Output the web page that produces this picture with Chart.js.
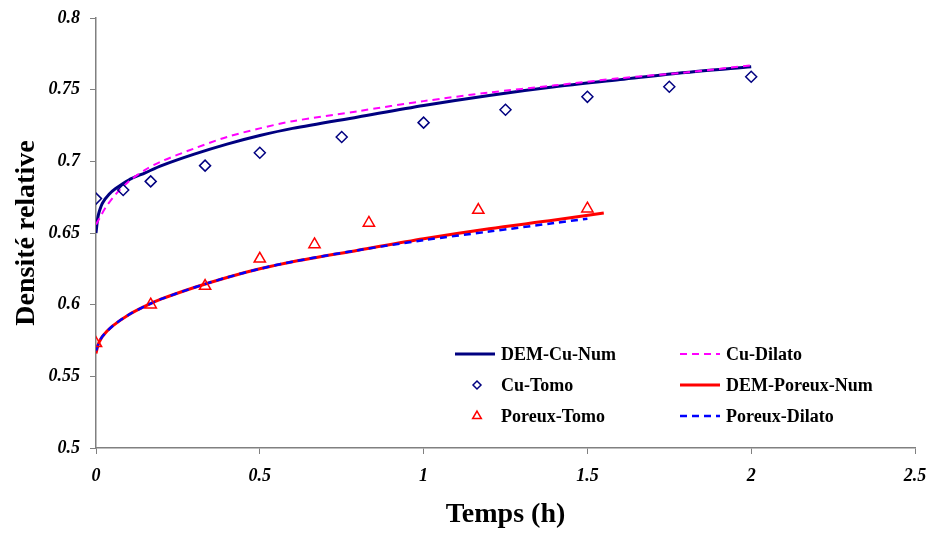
<!DOCTYPE html>
<html lang="fr">
  <head>
    <meta charset="UTF-8" />
    <title>Densité relative</title>
    <script src="https://cdn.jsdelivr.net/npm/chart.js"></script>
    <style>
      html, body { margin: 0; padding: 0; background: #fff; }
      #wrap { width: 926px; height: 533px; }
    </style>
  </head>
  <body>
    <div id="wrap"><canvas id="densChart" width="926" height="533"></canvas></div>
    <script>
      // values
      const cuNumT = [0, 0.005, 0.01, 0.02, 0.04, 0.06, 0.1, 0.15, 0.2, 0.3, 0.4, 0.5, 0.6, 0.8, 1.0, 1.2, 1.4, 1.6, 1.8, 2.0];
      const cuNumD = [0.650, 0.660, 0.665, 0.671, 0.677, 0.681, 0.687, 0.692, 0.697, 0.705, 0.712, 0.718, 0.723, 0.731, 0.739, 0.746, 0.752, 0.757, 0.762, 0.766];

      const cuDilT = [0, 0.01, 0.03, 0.06, 0.1, 0.15, 0.2, 0.3, 0.4, 0.5, 0.6, 0.8, 1.0, 1.2, 1.4, 1.6, 1.8, 2.0];
      const cuDilD = [0.656, 0.660, 0.668, 0.677, 0.686, 0.694, 0.700, 0.709, 0.717, 0.723, 0.728, 0.735, 0.742, 0.748, 0.753, 0.758, 0.762, 0.767];

      const cuTomoT = [0, 0.083, 0.167, 0.333, 0.5, 0.75, 1.0, 1.25, 1.5, 1.75, 2.0];
      const cuTomoD = [0.674, 0.680, 0.686, 0.697, 0.706, 0.717, 0.727, 0.736, 0.745, 0.752, 0.759];

      const porNumT = [0, 0.005, 0.01, 0.02, 0.05, 0.1, 0.15, 0.2, 0.3, 0.4, 0.5, 0.6, 0.8, 1.0, 1.2, 1.4, 1.55];
      const porNumD = [0.566, 0.571, 0.574, 0.578, 0.585, 0.593, 0.599, 0.604, 0.612, 0.619, 0.625, 0.630, 0.638, 0.646, 0.653, 0.659, 0.664];

      const porDilT = [0, 0.01, 0.02, 0.05, 0.1, 0.15, 0.2, 0.3, 0.4, 0.5, 0.6, 0.8, 1.0, 1.2, 1.4, 1.5];
      const porDilD = [0.568, 0.574, 0.578, 0.585, 0.593, 0.599, 0.604, 0.612, 0.619, 0.625, 0.630, 0.638, 0.645, 0.651, 0.657, 0.660];

      const porTomoT = [0, 0.167, 0.333, 0.5, 0.667, 0.833, 1.167, 1.5];
      const porTomoD = [0.573, 0.600, 0.613, 0.632, 0.642, 0.657, 0.666, 0.667];

      const xTickLabels = ["0", "0.5", "1", "1.5", "2", "2.5"];
      const yTickLabels = ["0.5", "0.55", "0.6", "0.65", "0.7", "0.75", "0.8"];

      function pts(t, d) {
        return t.map((v, i) => ({ x: v, y: d[i] }));
      }

      const serif = "'Liberation Serif', 'Times New Roman', serif";

      // legend drawn inside the plot, 2 columns x 3 rows
      const legendInside = {
        id: "legendInside",
        afterDraw(chart) {
          const ctx = chart.ctx;
          const ds = chart.data.datasets;
          const cells = [
            [0, 455, 354], [1, 680, 354],
            [2, 455, 385], [3, 680, 385],
            [4, 455, 416], [5, 680, 416],
          ];
          ctx.save();
          ctx.font = "bold 18px " + serif;
          ctx.textBaseline = "middle";
          cells.forEach(([i, x, y]) => {
            const d = ds[i];
            ctx.save();
            if (d.showLine === false) {
              ctx.strokeStyle = d.pointBorderColor;
              ctx.fillStyle = "rgba(0,0,0,0)";
              ctx.lineWidth = d.pointBorderWidth;
              Chart.helpers.drawPoint(ctx, {
                pointStyle: d.pointStyle,
                radius: d.pointRadius - 1.5,
                borderWidth: d.pointBorderWidth,
              }, x + 22, y);
            } else {
              ctx.strokeStyle = d.borderColor;
              ctx.lineWidth = d.borderWidth;
              ctx.setLineDash(d.borderDash || []);
              ctx.beginPath();
              ctx.moveTo(x, y);
              ctx.lineTo(x + 40, y);
              ctx.stroke();
            }
            ctx.restore();
            ctx.fillStyle = "#000";
            ctx.fillText(d.label, x + 46, y + 1);
          });
          ctx.restore();
        },
      };

      new Chart(document.getElementById("densChart"), {
        type: "scatter",
        data: {
          datasets: [
            {
              label: "DEM-Cu-Num",
              data: pts(cuNumT, cuNumD),
              showLine: true,
              borderColor: "#000080",
              borderWidth: 3,
              pointRadius: 0,
              tension: 0.3,
              order: 2,
            },
            {
              label: "Cu-Dilato",
              data: pts(cuDilT, cuDilD),
              showLine: true,
              borderColor: "#FF00FF",
              borderWidth: 2,
              borderDash: [7, 5],
              pointRadius: 0,
              tension: 0.3,
              order: 1,
            },
            {
              label: "Cu-Tomo",
              data: pts(cuTomoT, cuTomoD),
              showLine: false,
              pointStyle: "rectRot",
              pointRadius: 5.5,
              pointBorderWidth: 1.5,
              pointBorderColor: "#000080",
              pointBackgroundColor: "rgba(0,0,0,0)",
              borderColor: "#000080",
              order: 0,
            },
            {
              label: "DEM-Poreux-Num",
              data: pts(porNumT, porNumD),
              showLine: true,
              borderColor: "#FF0000",
              borderWidth: 3,
              pointRadius: 0,
              tension: 0.3,
              order: 4,
            },
            {
              label: "Poreux-Tomo",
              data: pts(porTomoT, porTomoD),
              showLine: false,
              pointStyle: "triangle",
              pointRadius: 6.5,
              pointBorderWidth: 1.5,
              pointBorderColor: "#FF0000",
              pointBackgroundColor: "rgba(0,0,0,0)",
              borderColor: "#FF0000",
              order: 0,
            },
            {
              label: "Poreux-Dilato",
              data: pts(porDilT, porDilD),
              showLine: true,
              borderColor: "#0000FF",
              borderWidth: 2.5,
              borderDash: [7, 5],
              pointRadius: 0,
              tension: 0.3,
              order: 3,
            },
          ],
        },
        options: {
          responsive: false,
          animation: false,
          layout: { padding: { left: 0, right: 11, top: 18, bottom: 0 } },
          plugins: {
            legend: { display: false },
            tooltip: { enabled: false },
          },
          scales: {
            x: {
              type: "linear",
              min: 0,
              max: 2.5,
              afterFit: (s) => {
                s.height = 85;
                s.paddingLeft = 0;
                s.paddingRight = 0;
              },
              afterBuildTicks: (s) => {
                s.ticks = xTickLabels.map((l) => ({ value: parseFloat(l) }));
              },
              ticks: {
                callback: (v, i) => xTickLabels[i],
                font: { family: serif, size: 18, weight: "bold", style: "italic" },
                color: "#000",
                padding: 12,
                maxRotation: 0,
              },
              grid: { drawOnChartArea: false, drawTicks: true, tickLength: 6, color: "#808080" },
              border: { color: "#808080", width: 1.5 },
              title: {
                display: true,
                text: "Temps (h)",
                font: { family: serif, size: 28, weight: "bold" },
                color: "#000",
                padding: { top: 0, bottom: 1 },
              },
            },
            y: {
              min: 0.5,
              max: 0.8,
              afterFit: (s) => {
                s.width = 96;
                s.paddingTop = 0;
                s.paddingBottom = 0;
              },
              afterBuildTicks: (s) => {
                s.ticks = yTickLabels.map((l) => ({ value: parseFloat(l) }));
              },
              ticks: {
                callback: (v, i) => yTickLabels[i],
                font: { family: serif, size: 18, weight: "bold", style: "italic" },
                color: "#000",
                padding: 10,
              },
              grid: { drawOnChartArea: false, drawTicks: true, tickLength: 6, color: "#808080" },
              border: { color: "#808080", width: 1.5 },
              title: {
                display: true,
                text: "Densité relative",
                font: { family: serif, size: 28, weight: "bold" },
                color: "#000",
                padding: { top: 10, bottom: 0 },
              },
            },
          },
        },
        plugins: [legendInside],
      });
    </script>
  </body>
</html>
